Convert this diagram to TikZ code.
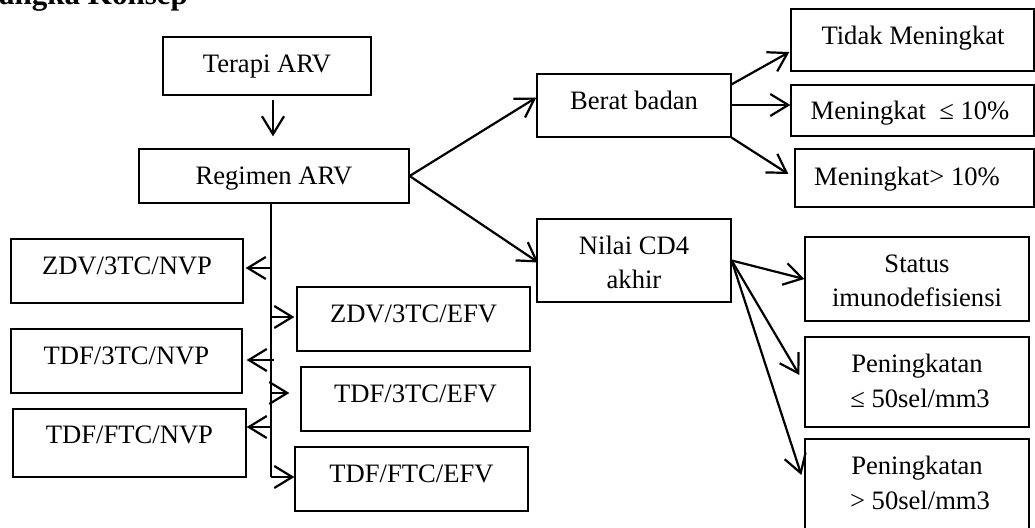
\documentclass[tikz,border=0pt]{standalone}
\usepackage{fontspec}
\setmainfont{Liberation Serif}
\usetikzlibrary{arrows.meta,calc,fit}
\begin{document}
\begin{tikzpicture}[x=1pt,y=-1pt,
  box/.style={draw, line width=1.3pt, inner sep=0pt},
  txt/.style={inner sep=0pt, anchor=base, font=\fontsize{26.6}{34}\selectfont},
  arr/.style={line width=2.2pt, -{Straight Barb[length=18pt,width=22pt,line width=2.2pt]}},
  trunk/.style={line width=2.2pt}]
\useasboundingbox (0,0) rectangle (1035,527);

% title
\node[anchor=base west, inner sep=0pt, font=\bfseries\fontsize{31}{36}\selectfont] (title) at (-1,5) {angka Konsep};

% boxes
\node[box, fit={(163,37) (371,95)}] (terapi) {};
\node[box, fit={(139,149) (409,203)}] (reg) {};
\node[box, fit={(11,239) (243,303)}] (zdvn) {};
\node[box, fit={(11,329) (242,393)}] (tdf3n) {};
\node[box, fit={(13,409) (246,477)}] (tdffn) {};
\node[box, fit={(297,287) (530,351)}] (zdve) {};
\node[box, fit={(301,367) (530,431)}] (tdf3e) {};
\node[box, fit={(295,447) (528,511)}] (tdffe) {};
\node[box, fit={(537,74) (731,137)}] (bb) {};
\node[box, fit={(537,219) (731,302)}] (nilai) {};
\node[box, fit={(791,9) (1034,71)}] (tidak) {};
\node[box, fit={(791,85) (1034,136)}] (men1) {};
\node[box, fit={(795,149) (1034,207)}] (men2) {};
\node[box, fit={(805,237) (1029,321)}] (status) {};
\node[box, fit={(805,337) (1029,427)}] (pen1) {};
\node[box, fit={(805,439) (1029,548)}] (pen2) {};

% texts
\node[txt] (tterapi) at (terapi.center |- 0,72) {Terapi ARV};
\node[txt] (treg) at (reg.center |- 0,184) {Regimen ARV};
\node[txt] (tzdvn) at (zdvn.center |- 0,274) {ZDV/3TC/NVP};
\node[txt] (ttdf3n) at (tdf3n.center |- 0,364) {TDF/3TC/NVP};
\node[txt] (ttdffn) at (tdffn.center |- 0,443) {TDF/FTC/NVP};
\node[txt] (tzdve) at (zdve.center |- 0,322) {ZDV/3TC/EFV};
\node[txt] (ttdf3e) at (tdf3e.center |- 0,402) {TDF/3TC/EFV};
\node[txt] (ttdffe) at (tdffe.center |- 0,482) {TDF/FTC/EFV};
\node[txt] (tbb) at (bb.center |- 0,109) {Berat badan};
\node[txt] (tnilai1) at (nilai.center |- 0,254) {Nilai CD4};
\node[txt] (tnilai2) at (nilai.center |- 0,288) {akhir};
\node[txt] (ttidak) at (913,45) {Tidak Meningkat};
\node[txt] (tmen1) at (910,119) {Meningkat\ \ ≤ 10\%};
\node[txt] (tmen2) at (907,185) {Meningkat> 10\%};
\node[txt] (tstatus1) at (917,272) {Status};
\node[txt] (tstatus2) at (917,306) {imunodefisiensi};
\node[txt] (tpen1a) at (917,372) {Peningkatan};
\node[txt] (tpen1b) at (920,407) {≤ 50sel/mm3};
\node[txt] (tpen2a) at (917,474) {Peningkatan};
\node[txt] (tpen2b) at (920,509) {> 50sel/mm3};

% connectors
\draw[arr] ($(terapi.south)+(6,4)$) -- ($(reg.north)+(-1,-12)$);
\coordinate (trtop) at ($(reg.south)+(-3,0)$);
\coordinate (trbot) at (trtop |- 0,477);
\draw[trunk] (trtop) -- (trbot);
\draw[arr] (trtop |- 0,268) -- ($(zdvn.east |- 0,268)+(2,0)$);
\draw[arr] ($(trtop |- 0,360)+(3,0)$) -- ($(tdf3n.east |- 0,360)+(4,0)$);
\draw[arr] (trtop |- 0,427) -- (tdffn.east |- 0,427);
\draw[arr] (trtop |- 0,317) -- ($(zdve.west |- 0,317)+(-2,0)$);
\draw[arr] (trtop |- 0,393) -- ($(tdf3e.west |- 0,393)+(-11,0)$);
\draw[arr] (trbot) -- (tdffe.west |- trbot);

\draw[arr] (reg.east) -- ($(bb.west)+(0,-8)$);
\draw[arr] (reg.east) -- ($(nilai.west)+(2,2)$);
\draw[arr] ($(bb.north east)+(0,11)$) -- ($(tidak.west)+(-1,12)$);
\draw[arr] (bb.east |- 0,105) -- (men1.west |- 0,105);
\draw[arr] (bb.south east) -- ($(men2.west)+(-6,-4)$);
\draw[arr] (nilai.east) -- (status.west);
\draw[arr] (nilai.east) -- ($(pen1.west)+(-5,-7)$);
\draw[arr] (nilai.east) -- ($(pen2.west |- 0,475)+(-3,0)$);
\end{tikzpicture}
\end{document}
